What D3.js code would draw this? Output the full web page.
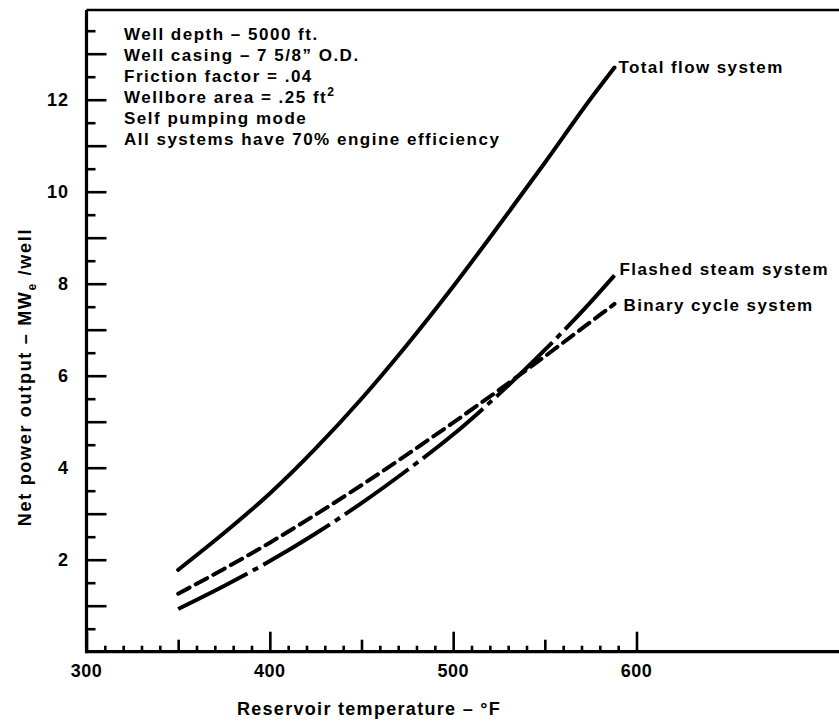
<!DOCTYPE html>
<html>
<head>
<meta charset="utf-8">
<script src="https://cdn.jsdelivr.net/npm/d3@7"></script>
<style>
  body { margin: 0; background: #fff; }
  svg { display: block; font-family: 'Liberation Sans', Arial, sans-serif; font-weight: bold; }
</style>
</head>
<body>
<div class="display"></div>
<script>
const WIDTH = 839;
const HEIGHT = 723;
const X0 = 86.5;
const X1 = 636.5;
const Y_ZERO = 651.7;
const Y_TOP = 10;
const PX_PER_UNIT = 46;

// data
const TEMPS = [350, 375, 400, 425, 450, 475, 500, 525, 550, 575, 588];
const TOTAL_FLOW = [1.78, 2.58, 3.44, 4.42, 5.50, 6.68, 7.94, 9.27, 10.63, 12.02, 12.70];
const FLASHED_STEAM = [0.93, 1.43, 1.97, 2.57, 3.23, 3.95, 4.72, 5.60, 6.56, 7.60, 8.18];
const BINARY_CYCLE = [1.26, 1.80, 2.37, 2.98, 3.62, 4.29, 4.98, 5.69, 6.42, 7.17, 7.56];

const X_LABELS = [300, 400, 500, 600];
const X_MID_TICKS = [350, 450, 550];
const Y_LABELS = [2, 4, 6, 8, 10, 12];

const NOTES = [
  'Well depth \u2013 5000 ft.',
  'Well casing \u2013 7 5/8\u201D O.D.',
  'Friction factor = .04',
  'Wellbore area = .25 ft',
  'Self pumping mode',
  'All systems have 70% engine efficiency'
];

let svg, x, y;

function setupSvg() {
  svg = d3.select('.display')
    .append('svg')
    .attr('width', WIDTH)
    .attr('height', HEIGHT);

  x = d3.scaleLinear().domain([300, 600]).range([X0, X1]);
  y = d3.scaleLinear().domain([0, 13.5]).range([Y_ZERO, Y_ZERO - 13.5 * PX_PER_UNIT]);
}

function drawAxes() {
  const minor = d3.range(310, 600, 10).filter(t => t % 50 !== 0);

  // x ticks pointing up, three lengths
  [[X_LABELS, 20], [X_MID_TICKS, 12], [minor, 6]].forEach(([vals, len]) => {
    const g = svg.append('g')
      .attr('transform', `translate(0, ${Y_ZERO})`)
      .call(d3.axisBottom(x).tickValues(vals).tickSize(-len).tickFormat(''));
    g.select('.domain').remove();
    g.selectAll('line').attr('stroke', '#000').attr('stroke-width', 2.6);
  });

  // y ticks pointing right
  const yLong = d3.range(1, 14);
  const yShort = d3.range(0.5, 14, 1);
  [[yLong, 20], [yShort, 9]].forEach(([vals, len]) => {
    const g = svg.append('g')
      .attr('transform', `translate(${X0}, 0)`)
      .call(d3.axisLeft(y).tickValues(vals).tickSize(-len).tickFormat(''));
    g.select('.domain').remove();
    g.selectAll('line').attr('stroke', '#000').attr('stroke-width', 2.6);
  });

  // frame lines
  svg.append('line')
    .attr('x1', X0).attr('x2', WIDTH)
    .attr('y1', Y_ZERO).attr('y2', Y_ZERO)
    .attr('stroke', '#000').attr('stroke-width', 3.2);
  svg.append('line')
    .attr('x1', X0).attr('x2', X0)
    .attr('y1', Y_TOP).attr('y2', Y_ZERO + 1.5)
    .attr('stroke', '#000').attr('stroke-width', 3.2);
  svg.append('line')
    .attr('x1', X0).attr('x2', WIDTH)
    .attr('y1', Y_TOP).attr('y2', Y_TOP)
    .attr('stroke', '#000').attr('stroke-width', 2.6);

  // tick labels
  svg.selectAll('.x-label')
    .data(X_LABELS)
    .enter()
    .append('text')
    .attr('class', 'x-label')
    .attr('x', d => x(d))
    .attr('y', 677)
    .attr('text-anchor', 'middle')
    .style('font-size', '18px')
    .style('letter-spacing', '0.5px')
    .text(d => d);

  svg.selectAll('.y-label')
    .data(Y_LABELS)
    .enter()
    .append('text')
    .attr('class', 'y-label')
    .attr('x', 69)
    .attr('y', d => y(d) + 6.5)
    .attr('text-anchor', 'end')
    .style('font-size', '18px')
    .style('letter-spacing', '1px')
    .text(d => d);

  svg.append('text')
    .attr('x', 369)
    .attr('y', 715)
    .attr('text-anchor', 'middle')
    .style('font-size', '18px')
    .style('letter-spacing', '1.3px')
    .text('Reservoir temperature \u2013 \u00B0F');

  const yt = svg.append('text')
    .attr('transform', 'translate(31, 377) rotate(-90)')
    .attr('text-anchor', 'middle')
    .style('font-size', '18px')
    .style('letter-spacing', '1.7px');
  yt.append('tspan').text('Net power output \u2013 MW');
  yt.append('tspan').attr('dy', 5).style('font-size', '12px').text('e');
  yt.append('tspan').attr('dy', -5).text(' /well');
}

function drawNotes() {
  const g = svg.append('g')
    .style('font-size', '17px')
    .style('letter-spacing', '1.5px');

  NOTES.forEach((line, i) => {
    const t = g.append('text')
      .attr('x', 124)
      .attr('y', 40 + i * 21)
      .text(line);
    if (i === 3) {
      t.append('tspan').attr('dy', -7).style('font-size', '12px').text('2');
    }
  });
}

function drawLines() {
  const line = vals => d3.line()
    .x((d, i) => x(TEMPS[i]))
    .y(d => y(d))
    .curve(d3.curveMonotoneX)(vals);

  const series = [
    { vals: TOTAL_FLOW, dash: null, cap: 'round', label: 'Total flow system', dx: 4, dy: 5 },
    { vals: FLASHED_STEAM, dash: '78,6,6,6', cap: 'butt', label: 'Flashed steam system', dx: 5, dy: 0 },
    { vals: BINARY_CYCLE, dash: '13,7', cap: 'round', label: 'Binary cycle system', dx: 9, dy: 7 }
  ];

  series.forEach(s => {
    svg.append('path')
      .attr('d', line(s.vals))
      .attr('fill', 'none')
      .attr('stroke', '#000')
      .attr('stroke-width', 4)
      .attr('stroke-linecap', s.cap)
      .attr('stroke-dasharray', s.dash);

    const last = s.vals.length - 1;
    svg.append('text')
      .attr('x', x(TEMPS[last]) + s.dx)
      .attr('y', y(s.vals[last]) + s.dy)
      .style('font-size', '17px')
      .style('letter-spacing', '1.4px')
      .text(s.label);
  });
}

window.addEventListener('load', () => {
  setupSvg();
  drawAxes();
  drawNotes();
  drawLines();
}, false);
</script>
</body>
</html>
